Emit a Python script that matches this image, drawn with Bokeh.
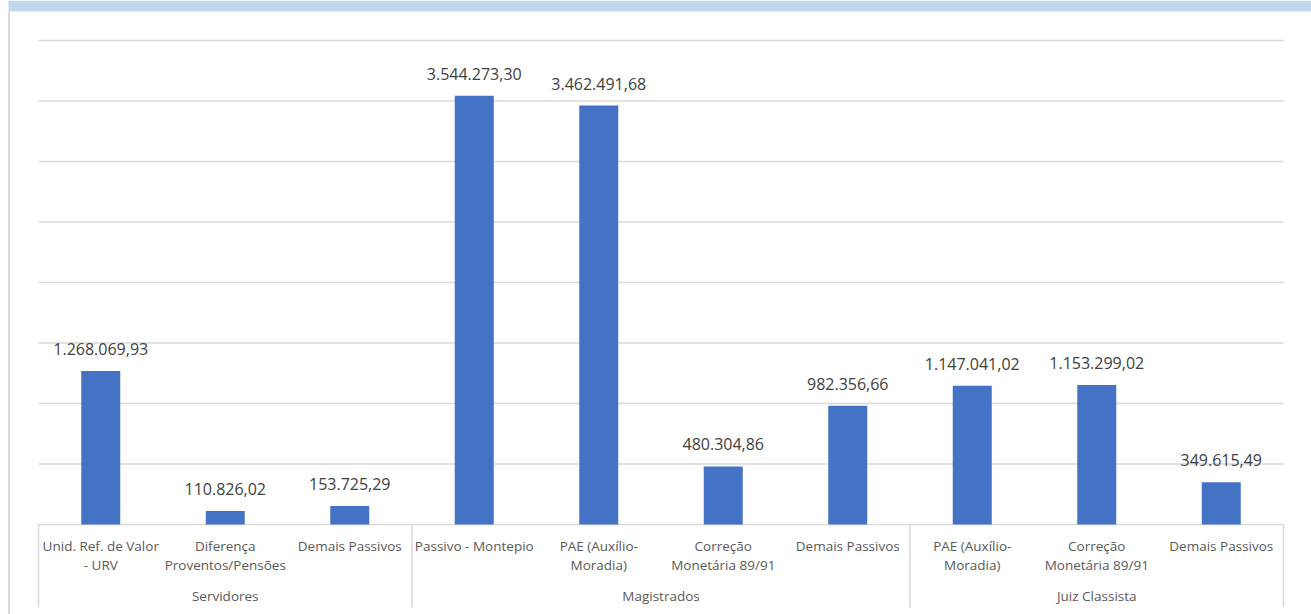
from bokeh.plotting import figure
from bokeh.models import Range1d, ColumnDataSource
from bokeh.core.properties import value
from bokeh.embed import file_html
from bokeh.resources import INLINE

# ---------------- data ----------------
groups = ["Servidores", "Magistrados", "Juiz Classista"]
group_sizes = [3, 4, 3]
categories = [
    "Unid. Ref. de Valor\n- URV",
    "Diferença\nProventos/Pensões",
    "Demais Passivos",
    "Passivo - Montepio",
    "PAE (Auxílio-\nMoradia)",
    "Correção\nMonetária 89/91",
    "Demais Passivos",
    "PAE (Auxílio-\nMoradia)",
    "Correção\nMonetária 89/91",
    "Demais Passivos",
]
values = [1268069.93, 110826.02, 153725.29, 3544273.30, 3462491.68,
          480304.86, 982356.66, 1147041.02, 1153299.02, 349615.49]
grid_values = [0, 500000, 1000000, 1500000, 2000000, 2500000, 3000000, 3500000, 4000000]

# ---------------- layout ----------------
W, H = 1311, 614          # figure size
PX_CAT = 124.5            # pixels per category
K = 500000 / 60.5         # data units per vertical pixel
LEFT_PAD = 38             # px from figure left to plot area
BASE_Y = 524              # px from figure top to baseline

x_start = -LEFT_PAD / PX_CAT
x_end = x_start + W / PX_CAT
y_top = BASE_Y * K
y_bottom = -(H - BASE_Y) * K

BAR_COLOR = "#4472C4"
GRID_COLOR = "#D9D9D9"
FONT = "Open Sans"

def fmt(v):
    s = f"{v:,.2f}"
    return s.replace(",", "X").replace(".", ",").replace("X", ".")

p = figure(width=W, height=H, output_backend="svg", toolbar_location=None,
           x_range=Range1d(x_start, x_end), y_range=Range1d(y_bottom, y_top),
           x_axis_location=None, y_axis_location=None, min_border=0,
           background_fill_color="white", border_fill_color="white")
p.outline_line_color = None
p.grid.visible = False

n = len(categories)
centers = [i + 0.5 for i in range(n)]

# top band and left border
p.quad(left=[x_start + 8 / PX_CAT], right=[x_end], top=[y_top], bottom=[y_top - 11 * K],
       fill_color="#C0D6ED", line_color=None)
p.quad(left=[x_start + 7.5 / PX_CAT], right=[x_start + 9.5 / PX_CAT],
       top=[y_top - 11 * K], bottom=[y_bottom],
       fill_color=GRID_COLOR, line_color=None)

# gridlines
p.segment(x0=[0] * len(grid_values), x1=[n] * len(grid_values),
          y0=grid_values, y1=grid_values, line_color=GRID_COLOR, line_width=1.3)

# bars
src = ColumnDataSource(dict(x=centers, top=values,
                            label=[fmt(v) for v in values],
                            ly=[v + 22 * K for v in values]))
p.vbar(x="x", top="top", bottom=0, width=39 / PX_CAT, source=src,
       fill_color=BAR_COLOR, line_color=None)
p.text(x="x", y="ly", text="label", source=src, text_font=value(FONT),
       text_font_size="16px", text_color="#404040", text_align="center",
       text_baseline="alphabetic")

# group separators
bounds = [0]
for s in group_sizes:
    bounds.append(bounds[-1] + s)
p.segment(x0=bounds, x1=bounds, y0=[0] * len(bounds), y1=[-83 * K] * len(bounds),
          line_color=GRID_COLOR, line_width=1.5)

# category labels (line by line)
lx, ly, lt = [], [], []
for c, lab in zip(centers, categories):
    for j, line in enumerate(lab.split("\n")):
        lx.append(c)
        ly.append(-(21 + 19 * j) * K)
        lt.append(line)
p.text(x=lx, y=ly, text=lt, text_font=value(FONT), text_font_size="13.5px",
       text_color="#595959", text_align="center", text_baseline="alphabetic")

# group labels
gx = [(bounds[i] + bounds[i + 1]) / 2 for i in range(len(groups))]
p.text(x=gx, y=[-71 * K] * len(groups), text=groups, text_font=value(FONT),
       text_font_size="13.5px", text_color="#595959", text_align="center",
       text_baseline="alphabetic")

open("out.html", "w").write(file_html(p, INLINE))
